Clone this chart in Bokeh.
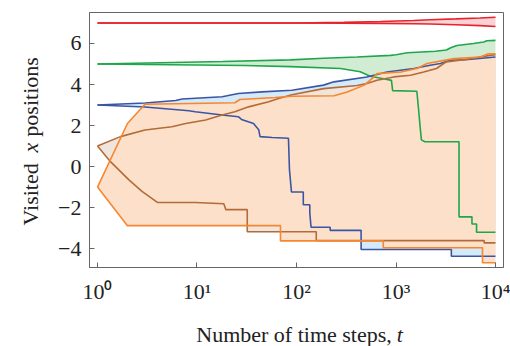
import math
from bokeh.plotting import figure
from bokeh.layouts import row, column
from bokeh.models import Range1d, FixedTicker
from bokeh.core.properties import value
from bokeh.embed import file_html
from bokeh.resources import INLINE

# ---------------- data ----------------
# time steps (log axis) and the running max / min of visited x positions
red_up_t = [1, 100, 300, 700, 1500, 2200, 4000, 7000, 10000]
red_up_v = [7.0, 7.0, 7.03, 7.07, 7.12, 7.16, 7.2, 7.24, 7.28]
red_lo_t = [1, 100, 300, 700, 1500, 2200, 4000, 7000, 10000]
red_lo_v = [7.0, 7.0, 6.99, 6.98, 6.96, 6.95, 6.91, 6.87, 6.83]

green_up_t = [1, 18, 87, 187, 406, 880, 1000, 1300, 2500, 3200, 3600, 4100, 6000, 7600, 8200, 10000]
green_up_v = [5.0, 5.12, 5.2, 5.28, 5.34, 5.42, 5.45, 5.55, 5.62, 5.68, 5.8, 5.9, 6.0, 6.07, 6.13, 6.15]
green_lo_t = [1, 30, 87, 277, 437, 550, 750, 900, 925, 1620, 1700, 1750, 1800, 1950,
              4300, 4300, 5800, 5800, 6450, 6450, 10000]
green_lo_v = [5.0, 4.93, 4.87, 4.78, 4.62, 4.4, 4.28, 4.2, 3.7, 3.67, 2.6, 1.9, 1.3, 1.21,
              1.21, -2.45, -2.45, -2.8, -2.8, -3.2, -3.2]

blue_up_t = [1, 3, 6.1, 7.1, 17.9, 26, 45, 90, 187, 238, 510, 810, 1510, 2200, 2800, 3500, 5000, 10000]
blue_up_v = [3.0, 3.1, 3.22, 3.29, 3.4, 3.56, 3.64, 3.72, 3.97, 4.13, 4.37, 4.61, 4.78, 4.94, 5.02, 5.18, 5.21, 5.34]
blue_lo_t = [1, 3, 8.3, 9.6, 17.9, 26, 28, 37, 41.7, 43, 57, 83, 85, 89, 117, 117, 136, 136,
             140, 218, 218, 446, 446, 3600, 3600, 10000]
blue_lo_v = [3.0, 2.9, 2.72, 2.67, 2.51, 2.43, 2.3, 2.1, 1.8, 1.46, 1.42, 1.38, -0.16, -1.24,
             -1.24, -1.86, -1.86, -2.26, -2.96, -2.96, -3.11, -3.11, -4.04, -4.04, -4.37, -4.37]

brown_up_t = [1, 1.7, 3.0, 5.6, 7.7, 12.2, 17.9, 24, 33, 52.6, 66, 90, 187, 406, 510, 645, 950,
              1400, 1900, 2550, 3200, 4800, 8800, 10000]
brown_up_v = [1.0, 1.46, 1.78, 1.94, 2.1, 2.27, 2.51, 2.67, 2.91, 3.16, 3.32, 3.5, 3.8, 3.95, 4.05,
              4.21, 4.37, 4.45, 4.61, 4.78, 5.1, 5.21, 5.42, 5.45]
brown_lo_t = [1, 1.35, 2.07, 2.8, 4, 9.6, 18.6, 19.5, 32, 32, 158, 158, 7700, 7700, 10000]
brown_lo_v = [1.0, 0.24, -0.65, -1.21, -1.75, -1.75, -1.81, -2.1, -2.1, -3.18, -3.18, -3.61,
              -3.61, -3.72, -3.72]

orange_up_t = [1, 2, 3, 24, 27, 61, 90, 238, 323, 480, 600, 645, 1120, 1620, 2050, 3800, 7000, 8500, 10000]
orange_up_v = [-1.0, 2.1, 3.04, 3.11, 3.27, 3.37, 3.43, 3.45, 3.64, 3.97, 4.37, 4.53, 4.61, 4.78,
               5.02, 5.26, 5.34, 5.5, 5.5]
orange_lo_t = [1, 2, 69, 69, 745, 745, 7400, 7400, 10000]
orange_lo_v = [-1.0, -2.88, -2.88, -3.62, -3.62, -3.96, -3.96, -4.69, -4.69]

x_ticks = [1, 10, 100, 1000, 10000]
x_tick_labels = ["10\u2070", "10\u00b9", "10\u00b2", "10\u00b3", "10\u2074"]
y_ticks = [-4, -2, 0, 2, 4, 6]
y_tick_labels = ["\u22124", "\u22122", "0", "2", "4", "6"]

x_title = ["Number of time steps,", "t"]
y_title = ["Visited", "x", "positions"]

# ---------------- styling / layout ----------------
FONT = "Liberation Serif"
series = [
    ("#e8232c", "#f9d2d5", red_up_t, red_up_v, red_lo_t, red_lo_v),
    ("#1fa64b", "#d2ecd4", green_up_t, green_up_v, green_lo_t, green_lo_v),
    ("#3b55a5", "#d4eaf8", blue_up_t, blue_up_v, blue_lo_t, blue_lo_v),
    ("#b36c38", "#efe5dd", brown_up_t, brown_up_v, brown_lo_t, brown_lo_v),
    ("#f68630", "#fde0c9", orange_up_t, orange_up_v, orange_lo_t, orange_lo_v),
]

W, H = 510, 346
WL = 45          # strip on the left for the y title
HB = 40          # strip at the bottom for the x title
X0, X1 = 10 ** -0.0804, 10 ** 4.0804
Y0, Y1 = -4.92, 7.51

p = figure(width=W - WL, height=H - HB, x_axis_type="log",
           x_range=Range1d(X0, X1), y_range=Range1d(Y0, Y1),
           output_backend="svg", toolbar_location=None,
           min_border_left=89 - WL, min_border_right=7, min_border_top=12,
           min_border_bottom=(H - HB) - 268)
p.background_fill_color = "white"
p.border_fill_color = "white"
p.outline_line_color = "#666666"
p.outline_line_width = 1
p.xgrid.visible = False
p.ygrid.visible = False

for ax in (p.xaxis[0], p.yaxis[0]):
    ax.axis_line_color = "#666666"
    ax.major_tick_line_color = "#666666"
    ax.major_tick_in = 5
    ax.major_tick_out = 0
    ax.minor_tick_line_color = None
    ax.major_label_text_font = FONT
    ax.major_label_text_font_size = "22px"
    ax.major_label_text_color = "#222222"

p.xaxis.ticker = FixedTicker(ticks=x_ticks)
p.xaxis.major_label_overrides = {float(t): s for t, s in zip(x_ticks, x_tick_labels)}
p.xaxis.major_label_standoff = 11
p.yaxis.ticker = FixedTicker(ticks=y_ticks)
p.yaxis.major_label_overrides = {float(t): s for t, s in zip(y_ticks, y_tick_labels)}
p.yaxis.major_label_standoff = 8

# fills first (orange last, on top), then lines
for lc, fc, ut, uv, lt, lv in series:
    xs = list(ut) + list(lt)[::-1]
    ys = list(uv) + list(lv)[::-1]
    p.patch(xs, ys, fill_color=fc, line_color=None)
for lc, fc, ut, uv, lt, lv in series:
    p.line(ut, uv, line_color=lc, line_width=1.6)
    p.line(lt, lv, line_color=lc, line_width=1.6)


def text_strip(w, h):
    f = figure(width=w, height=h, x_range=Range1d(0, w), y_range=Range1d(0, h),
               output_backend="svg", toolbar_location=None,
               x_axis_location=None, y_axis_location=None,
               min_border=0, min_border_left=0, min_border_right=0,
               min_border_top=0, min_border_bottom=0)
    f.outline_line_color = None
    f.background_fill_color = "white"
    f.border_fill_color = "white"
    f.xgrid.visible = False
    f.ygrid.visible = False
    return f


def put(f, x, y, s, align, angle=0.0, italic=False):
    f.text(x=[x], y=[y], text=[s], text_font=value(FONT), text_font_size="22px",
           text_color="#222222", text_align=align, text_baseline="alphabetic",
           angle=angle, text_font_style="italic" if italic else "normal")


# x title strip: page y 306..346, page x 45..510
fx = text_strip(W - WL, HB)
put(fx, 384.5 - WL, H - 334, x_title[0], "right")
put(fx, 390 - WL, H - 334, x_title[1], "left", italic=True)

# y title strip: page x 0..45, full height
fy = text_strip(WL, H)
put(fy, 30, H - 225, y_title[0], "left", math.pi / 2)
put(fy, 30, H - 152, y_title[1], "left", math.pi / 2, True)
put(fy, 30, H - 56.7, y_title[2], "right", math.pi / 2)

layout = row(fy, column(p, fx, spacing=0), spacing=0)
open("out.html", "w").write(file_html(layout, INLINE))
